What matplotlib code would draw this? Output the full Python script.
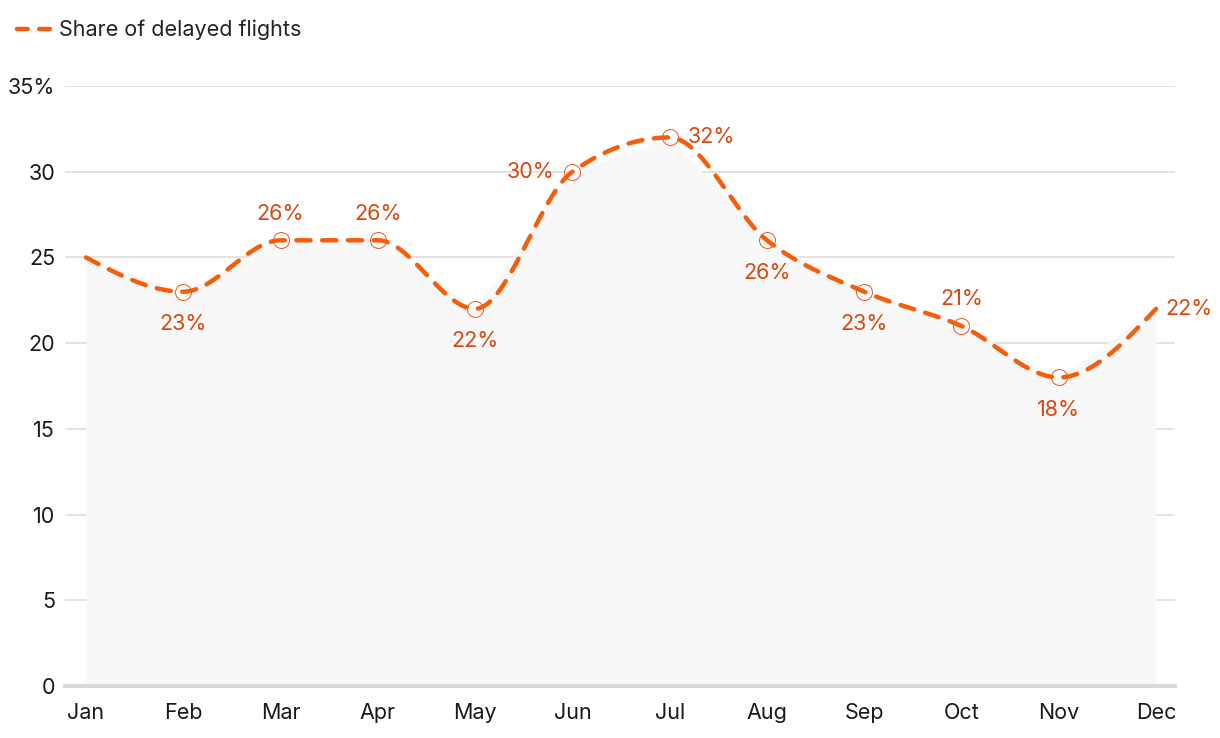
import numpy as np
import matplotlib
matplotlib.use("Agg")
import matplotlib.pyplot as plt
from matplotlib.lines import Line2D

plt.rcParams['font.family'] = ['Inter', 'DejaVu Sans']

months = ["Jan", "Feb", "Mar", "Apr", "May", "Jun", "Jul", "Aug", "Sep", "Oct", "Nov", "Dec"]
delayed = [25, 23, 26, 26, 22, 30, 32, 26, 23, 21, 18, 22]
label_pos = [None, "below", "above", "above", "below", "left", "right", "below", "below", "above", "below", "end"]
yticks = [0, 5, 10, 15, 20, 25, 30, 35]
ytick_labels = ["0", "5", "10", "15", "20", "25", "30", "35%"]

LINE = "#f75c0a"
LABEL = "#d9470f"


def monotone(x, y, n=40):
    x = np.asarray(x, float); y = np.asarray(y, float)
    h = np.diff(x); d = np.diff(y) / h
    m = np.zeros_like(y)
    for i in range(1, len(y) - 1):
        if d[i - 1] * d[i] <= 0:
            m[i] = 0
        else:
            p = (d[i - 1] * h[i] + d[i] * h[i - 1]) / (h[i - 1] + h[i])
            m[i] = (np.sign(d[i - 1]) + np.sign(d[i])) * min(abs(d[i - 1]), abs(d[i]), 0.5 * abs(p))
    m[0] = (3 * d[0] - m[1]) / 2
    m[-1] = (3 * d[-1] - m[-2]) / 2
    xs, ys = [], []
    for i in range(len(x) - 1):
        t = np.linspace(0, 1, n, endpoint=(i == len(x) - 2))
        h00 = 2 * t**3 - 3 * t**2 + 1
        h10 = t**3 - 2 * t**2 + t
        h01 = -2 * t**3 + 3 * t**2
        h11 = t**3 - t**2
        xs.append(x[i] + t * h[i])
        ys.append(h00 * y[i] + h10 * h[i] * m[i] + h01 * y[i + 1] + h11 * h[i] * m[i + 1])
    return np.concatenate(xs), np.concatenate(ys)


fig = plt.figure(figsize=(12.2, 7.38), dpi=100)
ax = fig.add_axes([65 / 1220, 1 - 686 / 738, 1110 / 1220, 600 / 738])

x = np.arange(len(months))
ax.set_xlim(-0.216, 11.195)
ax.set_ylim(0, 35)

ax.fill_between(x, delayed, 0, color="#f8f8f8", lw=0, zorder=1)
for t in yticks[1:]:
    ax.axhline(t, color="#dedede", lw=1.2, zorder=0.5)
ax.axhline(0, color="#d9d9d9", lw=3, zorder=2, clip_on=False)

xs, ys = monotone(x, delayed)
ax.plot(xs, ys, color=LINE, lw=3.2, ls=(0, (3.2, 2.6)), dash_capstyle="round", zorder=4)

for i in range(1, len(months) - 1):
    ax.plot(x[i], delayed[i], marker="o", ms=11.5, mfc="none", mec="#ee5a1a", mew=0.7, zorder=3)

offsets = {
    "below": ((0, -16), "center", "top"),
    "above": ((0, 12), "center", "bottom"),
    "left": ((-13, 0), "right", "center"),
    "right": ((13, 0), "left", "center"),
    "end": ((7, 0), "left", "center"),
}
for i, (v, pos) in enumerate(zip(delayed, label_pos)):
    if pos is None:
        continue
    off, ha, va = offsets[pos]
    ax.annotate(f"{v}%", (i, v), xytext=off, textcoords="offset points", ha=ha, va=va,
                color=LABEL, fontsize=15.5, zorder=5)

ax.set_xticks(x)
ax.set_xticklabels(months)
ax.set_yticks(yticks)
ax.set_yticklabels(ytick_labels)
ax.tick_params(axis="both", length=0, labelsize=15.5, colors="#1a1a1a")
ax.tick_params(axis="x", pad=12)
ax.tick_params(axis="y", pad=7)
for s in ax.spines.values():
    s.set_visible(False)

handle = Line2D([], [], color=LINE, lw=3.2, ls=(0, (2.4, 2.6)), dash_capstyle="round")
fig.legend([handle], ["Share of delayed flights"], loc="center left", bbox_to_anchor=(-0.002, 1 - 30 / 738),
           frameon=False, fontsize=15.5, handlelength=1.6, handletextpad=0.35, labelcolor="#222222")

fig.savefig("out.png", dpi=100)
